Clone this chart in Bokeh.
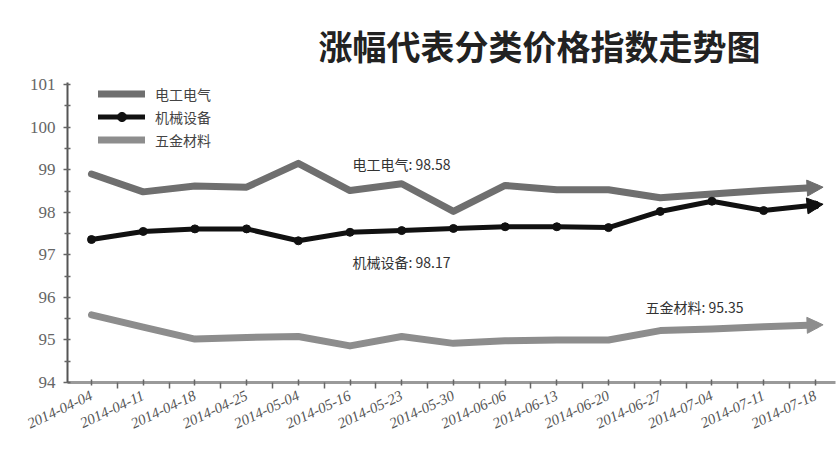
from bokeh.plotting import figure
from bokeh.models import (Range1d, FixedTicker, Label, Arrow, NormalHead, Legend,
                          LegendItem, CustomJSTickFormatter)
from bokeh.embed import file_html
from bokeh.resources import INLINE

dates = ["2014-04-04", "2014-04-11", "2014-04-18", "2014-04-25", "2014-05-04",
         "2014-05-16", "2014-05-23", "2014-05-30", "2014-06-06", "2014-06-13",
         "2014-06-20", "2014-06-27", "2014-07-04", "2014-07-11", "2014-07-18"]
idx = list(range(len(dates)))

diangong = [98.90, 98.48, 98.62, 98.59, 99.15, 98.51, 98.67, 98.02, 98.63, 98.53,
            98.53, 98.34, 98.43, 98.51, 98.58]
jixie = [97.36, 97.55, 97.61, 97.61, 97.33, 97.53, 97.57, 97.62, 97.66, 97.66,
         97.64, 98.02, 98.26, 98.04, 98.17]
wujin = [95.59, 95.30, 95.02, 95.06, 95.08, 94.86, 95.08, 94.92, 94.98, 95.00,
         95.00, 95.22, 95.26, 95.31, 95.35]

names = ["电工电气", "机械设备", "五金材料"]
yticks = [94, 95, 96, 97, 98, 99, 100, 101]
title_text = "涨幅代表分类价格指数走势图"

CJK = "Noto Sans CJK SC"
SERIF = "Liberation Serif"
C1 = "#6f6f6f"
C2 = "#111111"
C3 = "#8d8d8d"

p = figure(width=836, height=460, output_backend="svg", toolbar_location=None,
           x_range=Range1d(-0.464, 14.39), y_range=Range1d(94, 101.05),
           min_border_left=67, min_border_right=1, min_border_top=82,
           min_border_bottom=78)
p.outline_line_color = None
p.xgrid.grid_line_color = None
p.ygrid.grid_line_color = None
p.background_fill_color = "white"
p.border_fill_color = "white"

p.title.text = title_text
p.title.align = "left"
p.title.offset = 251
p.title.text_font = CJK
p.title.text_font_size = "34px"
p.title.text_font_style = "bold"
p.title.text_color = "#222222"
p.title.standoff = 25

r1 = p.line(idx, diangong, line_width=7, line_color=C1, line_join="round", line_cap="round")
r3 = p.line(idx, wujin, line_width=7, line_color=C3, line_join="round", line_cap="round")
r2 = p.line(idx, jixie, line_width=5, line_color=C2, line_join="round", line_cap="round")
r2m = p.scatter(idx, jixie, size=8, color=C2)

for series, col in ((diangong, C1), (jixie, C2), (wujin, C3)):
    p.add_layout(Arrow(end=NormalHead(size=16, fill_color=col, line_color=col),
                       x_start=idx[-2], y_start=series[-2],
                       x_end=idx[-1] + 0.15, y_end=series[-1] + (series[-1] - series[-2]) * 0.15,
                       line_alpha=0))

legend = Legend(items=[LegendItem(label=names[0], renderers=[r1]),
                       LegendItem(label=names[1], renderers=[r2, r2m]),
                       LegendItem(label=names[2], renderers=[r3])],
                location=(31, 231), border_line_alpha=0, background_fill_alpha=0,
                padding=0, margin=0, spacing=0, label_height=23, glyph_height=23,
                glyph_width=47, label_standoff=10, label_text_font=CJK,
                label_text_font_size="14px", label_text_color="#444444")
p.add_layout(legend)

# x axis
p.xaxis.ticker = FixedTicker(ticks=idx, minor_ticks=[i - 0.5 for i in idx] + [14.5])
p.xaxis.formatter = CustomJSTickFormatter(args=dict(labels=dates),
                                          code="return labels[Math.round(tick)] || '';")
p.xaxis.major_label_orientation = 0.44
p.xaxis.major_label_text_font = SERIF
p.xaxis.major_label_text_font_style = "italic"
p.xaxis.major_label_text_font_size = "15px"
p.xaxis.major_label_text_color = "#555555"
p.xaxis.major_label_standoff = 6
p.xaxis.axis_line_color = "#9a9a9a"
p.xaxis.axis_line_width = 3
p.xaxis.major_tick_line_color = "#666666"
p.xaxis.minor_tick_line_color = "#666666"
p.xaxis.major_tick_in = 3
p.xaxis.major_tick_out = 3
p.xaxis.minor_tick_in = 0
p.xaxis.minor_tick_out = 6
p.xaxis.major_tick_line_width = 1.5
p.xaxis.minor_tick_line_width = 1.5

# y axis
p.yaxis.ticker = FixedTicker(ticks=yticks, minor_ticks=[v + 0.5 for v in yticks[:-1]])
p.yaxis.major_label_text_font = SERIF
p.yaxis.major_label_text_font_size = "17px"
p.yaxis.major_label_text_color = "#666666"
p.yaxis.axis_line_color = "#555555"
p.yaxis.axis_line_width = 2
p.yaxis.major_tick_line_color = "#666666"
p.yaxis.minor_tick_line_color = "#666666"
p.yaxis.major_tick_in = 3
p.yaxis.major_tick_out = 4
p.yaxis.minor_tick_in = 3
p.yaxis.minor_tick_out = 3
p.yaxis.major_tick_line_width = 1.5
p.yaxis.minor_tick_line_width = 1.5
p.yaxis.major_label_standoff = 8

# value annotations
notes = [(names[0] + ": " + f"{diangong[-1]:.2f}", 285, 219),
         (names[1] + ": " + f"{jixie[-1]:.2f}", 285, 121),
         (names[2] + ": " + f"{wujin[-1]:.2f}", 578, 76)]
for txt, sx, sy in notes:
    p.add_layout(Label(x=sx, y=sy, x_units="screen", y_units="screen", text=txt,
                       text_font=CJK, text_font_size="14px", text_color="#333333",
                       text_align="left", text_baseline="middle"))

open("out.html", "w").write(file_html(p, INLINE))
